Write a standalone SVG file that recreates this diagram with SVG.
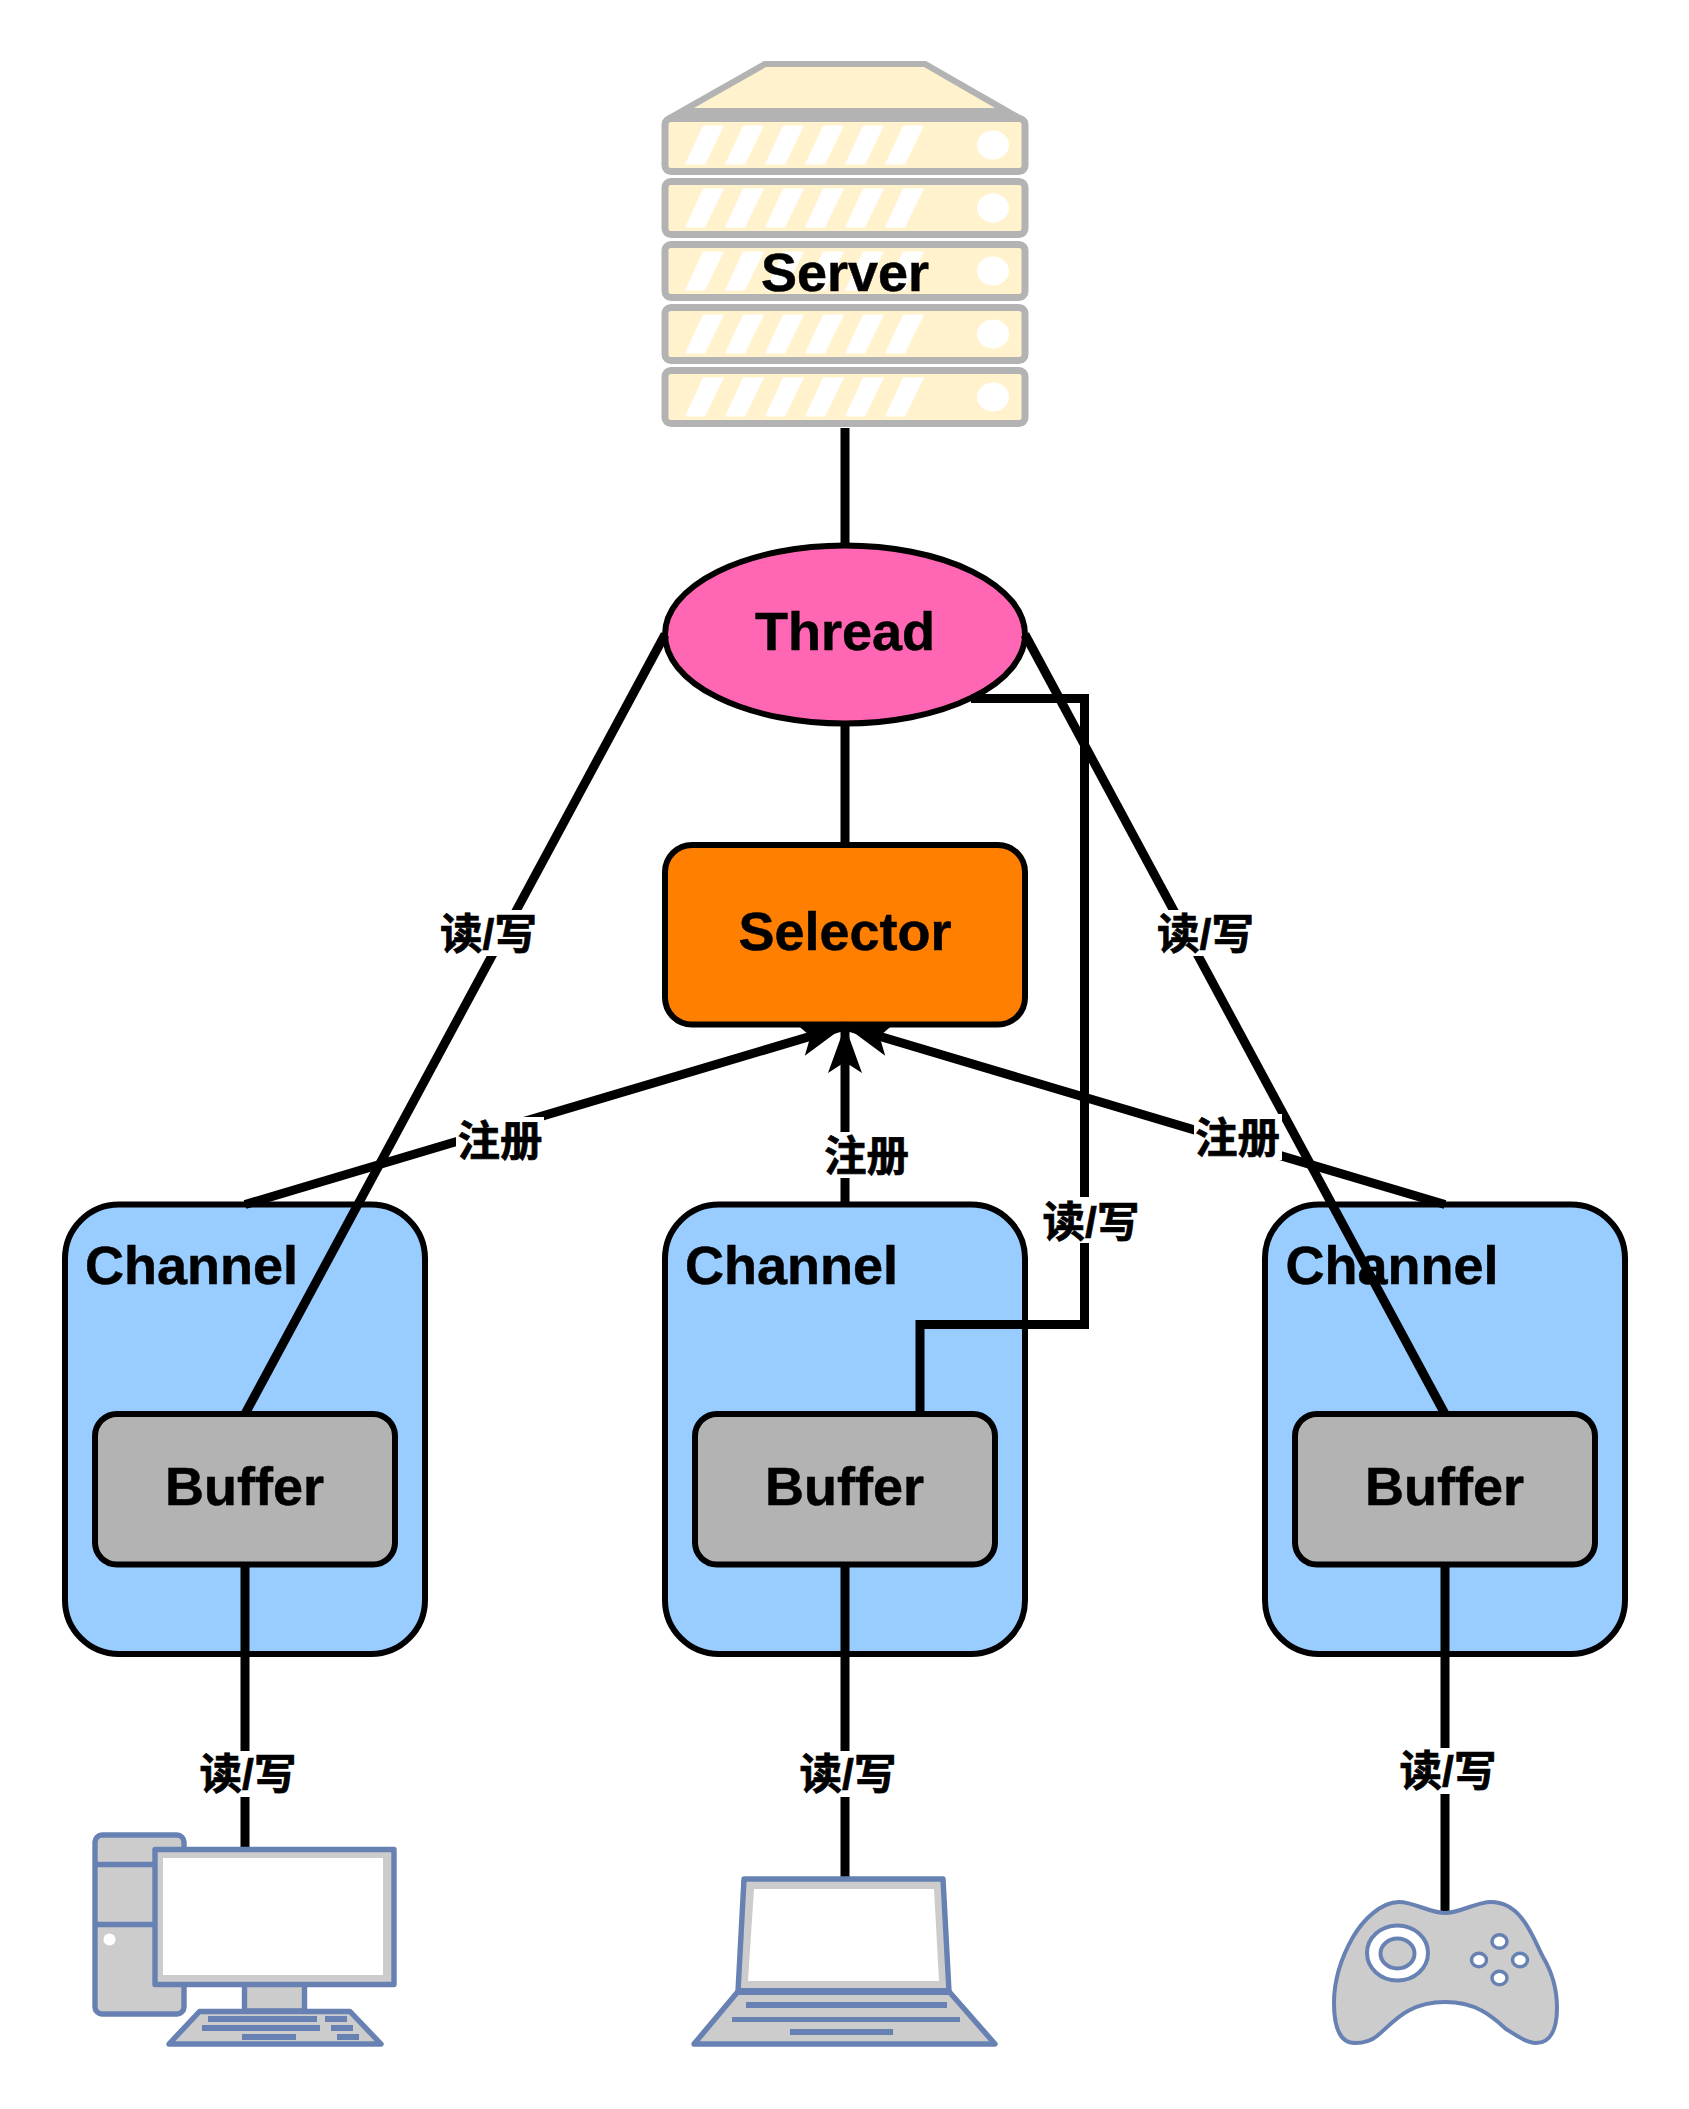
<svg xmlns="http://www.w3.org/2000/svg" xmlns:xlink="http://www.w3.org/1999/xlink" width="1689" height="2109" viewBox="0 0 1689 2109">
<style>
text{font-family:"Liberation Sans","Noto Sans CJK SC",sans-serif;font-weight:bold;fill:#000}
.t{font-size:54px;stroke:#000;stroke-width:.5px}
.m{text-anchor:middle}
.l{font-size:42.500px;text-anchor:middle;stroke:#000;stroke-width:.7px}
.box{stroke:#000;stroke-width:6}
.conn{fill:none;stroke:#000;stroke-width:9}
.bg{fill:#fff}
.rack{fill:#fff2cc;stroke:#b3b3b3;stroke-width:7;stroke-linejoin:round}
.ic{fill:#ccc;stroke:#6881b3;stroke-width:5.400;stroke-linejoin:round}
.key{fill:#6881b3}
.wh{fill:#fff}
</style>
<defs>
<marker id="arrow" markerUnits="userSpaceOnUse" markerWidth="60" markerHeight="44" viewBox="-50 -22 60 44" refX="0" refY="0" orient="auto"><path d="M0 0L-47 -17L-36 0L-47 17Z" fill="#000"/></marker>
<g id="rackUnit">
<rect class="rack" x="665" y="0" width="360" height="53" rx="6"/>
<path class="wh" d="M703-4.500h21l-19 39h-20zM743-4.500h21l-19 39h-20zM783-4.500h21l-19 39h-20zM823-4.500h21l-19 39h-20zM863-4.500h21l-19 39h-20zM903-4.500h21l-19 39h-20z" transform="translate(0,11.500)"/>
<ellipse class="wh" cx="993" cy="26.500" rx="16" ry="14.500"/>
</g>
</defs>
<g id="server">
<path fill="#b3b3b3" d="M764 61H926L1022 116L1024 122H665L667 116Z"/>
<path fill="#fff2cc" d="M766 67H924L995 108H694Z"/>
<use xlink:href="#rackUnit" href="#rackUnit" y="118.500"/>
<use xlink:href="#rackUnit" href="#rackUnit" y="181.500"/>
<use xlink:href="#rackUnit" href="#rackUnit" y="244.500"/>
<use xlink:href="#rackUnit" href="#rackUnit" y="307.500"/>
<use xlink:href="#rackUnit" href="#rackUnit" y="370.500"/>
<text class="t m" x="845" y="291">Server</text>
</g>
<g id="thread">
<ellipse class="box" cx="845" cy="634.500" rx="180" ry="89" fill="#ff66b3"/>
<text class="t m" x="845" y="650">Thread</text>
</g>
<g id="selector">
<rect class="box" x="665" y="845" width="360" height="179.500" rx="27" fill="#ff8000"/>
<text class="t m" x="845" y="950">Selector</text>
</g>
<g id="channel1">
<rect class="box" x="65" y="1204.500" width="360" height="449.500" rx="54" fill="#99ccff"/>
<text class="t" x="85" y="1284">Channel</text>
</g>
<g id="channel2">
<rect class="box" x="665" y="1204.500" width="360" height="449.500" rx="54" fill="#99ccff"/>
<text class="t" x="685" y="1284">Channel</text>
</g>
<g id="channel3">
<rect class="box" x="1265" y="1204.500" width="360" height="449.500" rx="54" fill="#99ccff"/>
<text class="t" x="1285.500" y="1284">Channel</text>
</g>
<g id="connectors">
<path class="conn" d="M845 428V544"/>
<path class="conn" d="M845 723V845"/>
<path class="conn" d="M665 634.500L245 1414"/>
<path class="conn" d="M1025 634.500L1445 1414"/>
<path class="conn" d="M971 698.500H1084.500V1324.500H920V1414"/>
<path class="conn" d="M245 1204.500L845 1026" marker-end="url(#arrow)"/>
<path class="conn" d="M845 1204.500V1026" marker-end="url(#arrow)"/>
<path class="conn" d="M1445 1204.500L845 1026" marker-end="url(#arrow)"/>
<path class="conn" d="M245 1565V1850"/>
<path class="conn" d="M845 1565V1878"/>
<path class="conn" d="M1445 1565V1913"/>
<g id="labels">
<rect class="bg" x="439" y="910" width="98" height="46"/><text class="l" x="488.500" y="949">读/写</text>
<rect class="bg" x="1156" y="910" width="98" height="46"/><text class="l" x="1205.500" y="949">读/写</text>
<rect class="bg" x="1042" y="1197" width="98" height="46"/><text class="l" x="1091" y="1237">读/写</text>
<rect class="bg" x="456" y="1117" width="88" height="46"/><text class="l" x="500" y="1156">注册</text>
<rect class="bg" x="823" y="1132" width="88" height="46"/><text class="l" x="866.500" y="1171">注册</text>
<rect class="bg" x="1194" y="1114" width="88" height="46"/><text class="l" x="1237.500" y="1153">注册</text>
<rect class="bg" x="199" y="1751" width="98" height="46"/><text class="l" x="248" y="1789">读/写</text>
<rect class="bg" x="799" y="1751" width="98" height="46"/><text class="l" x="848" y="1789">读/写</text>
<rect class="bg" x="1399" y="1748" width="98" height="46"/><text class="l" x="1448" y="1786">读/写</text>
</g>
</g>
<g id="buffer1">
<rect class="box" x="95" y="1414" width="300" height="150.500" rx="22" fill="#b3b3b3"/>
<text class="t m" x="244.500" y="1505">Buffer</text>
</g>
<g id="buffer2">
<rect class="box" x="695" y="1414" width="300" height="150.500" rx="22" fill="#b3b3b3"/>
<text class="t m" x="844.500" y="1505">Buffer</text>
</g>
<g id="buffer3">
<rect class="box" x="1295" y="1414" width="300" height="150.500" rx="22" fill="#b3b3b3"/>
<text class="t m" x="1444.500" y="1505">Buffer</text>
</g>
<g id="computer">
<rect class="ic" x="95" y="1835" width="89" height="179" rx="7"/>
<path d="M95 1864.500H155M95 1924.500H155" fill="none" stroke="#6881b3" stroke-width="5.400"/>
<circle class="wh" cx="109.500" cy="1939.500" r="6"/>
<rect class="ic" x="244.500" y="1984" width="60" height="27"/>
<rect class="ic" x="155" y="1849.500" width="239" height="135"/>
<rect class="wh" x="163" y="1858" width="220" height="117"/>
<path class="ic" d="M199.500 2011.500H350L381 2044H169Z"/>
<path class="key" d="M208 2016h109v6h-109zM325 2016h22v6h-22zM202 2025h118v6h-118zM331 2025h22v6h-22zM242 2034h54v6h-54zM337 2034h22v6h-22z"/>
</g>
<g id="laptop">
<path class="ic" d="M744 1879H943L949 1991.500H738Z"/>
<path class="wh" d="M754 1889H934L939 1981H748Z"/>
<path class="ic" d="M738 1991.500H949L995 2044H694Z"/>
<rect class="key" x="737" y="1988" width="213" height="7"/>
<path class="key" d="M746 2002h201v6h-201zM732 2017h228v5h-228zM790 2029h103v6h-103z"/>
</g>
<g id="gamepad">
<path class="ic" style="stroke-width:4" d="M1445 1913C1430 1913 1414 1902 1399 1902C1381 1902 1363 1920 1353 1937C1341 1958 1334 1980 1334 2003C1334 2025 1339 2043 1355 2043C1365 2043 1371 2041 1377 2036C1393 2023 1407 2002 1445 2002C1475 2002 1491 2015 1506 2029C1517 2036 1527 2043 1536 2043C1551 2043 1557 2028 1557 2008C1557 1988 1552 1972 1543 1957C1533 1938 1522 1902 1491 1902C1476 1902 1460 1913 1445 1913Z"/>
<ellipse cx="1397.500" cy="1953" rx="30.500" ry="27.500" fill="#fff" stroke="#6881b3" stroke-width="4"/>
<ellipse cx="1397.500" cy="1953.500" rx="17" ry="15" fill="#ccc" stroke="#6881b3" stroke-width="4"/>
<ellipse cx="1499.500" cy="1941.500" rx="7.500" ry="6.800" fill="#fff" stroke="#6881b3" stroke-width="3.500"/>
<ellipse cx="1479" cy="1960" rx="7.500" ry="6.800" fill="#fff" stroke="#6881b3" stroke-width="3.500"/>
<ellipse cx="1520" cy="1960" rx="7.500" ry="6.800" fill="#fff" stroke="#6881b3" stroke-width="3.500"/>
<ellipse cx="1499.500" cy="1978" rx="7.500" ry="6.800" fill="#fff" stroke="#6881b3" stroke-width="3.500"/>
</g>
</svg>
